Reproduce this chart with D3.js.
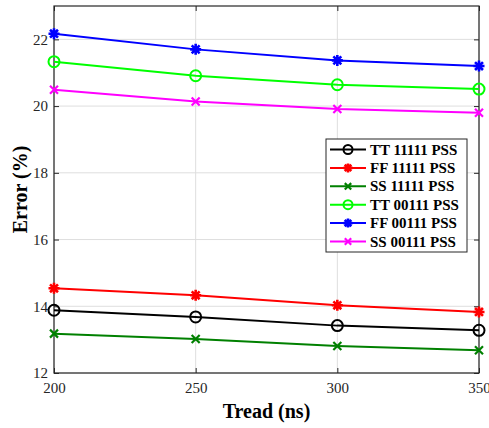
<!DOCTYPE html>
<html>
<head>
<meta charset="utf-8">
<script src="https://cdn.jsdelivr.net/npm/d3@7"></script>
<style>
body { margin: 0; background: #fff; }
text { font-family: "Liberation Serif", "Times New Roman", serif; }
</style>
</head>
<body>
<svg width="489" height="428"></svg>
<script>
// data
var treadNs = [200, 250, 300, 350];
var tt11111 = [13.88, 13.68, 13.42, 13.28];
var ff11111 = [14.54, 14.33, 14.03, 13.83];
var ss11111 = [13.18, 13.02, 12.81, 12.68];
var tt00111 = [21.33, 20.91, 20.64, 20.51];
var ff00111 = [22.17, 21.70, 21.37, 21.20];
var ss00111 = [20.49, 20.14, 19.91, 19.80];
var yTicks = [12, 14, 16, 18, 20, 22];
var seriesNames = ["TT 11111 PSS", "FF 11111 PSS", "SS 11111 PSS",
                   "TT 00111 PSS", "FF 00111 PSS", "SS 00111 PSS"];

var series = [
    {name: seriesNames[0], vals: tt11111, color: "#000000", marker: "o"},
    {name: seriesNames[1], vals: ff11111, color: "#ff0000", marker: "*"},
    {name: seriesNames[2], vals: ss11111, color: "#008000", marker: "x"},
    {name: seriesNames[3], vals: tt00111, color: "#00ff00", marker: "o"},
    {name: seriesNames[4], vals: ff00111, color: "#0000ff", marker: "*"},
    {name: seriesNames[5], vals: ss00111, color: "#ff00ff", marker: "x"}
];

var svg = d3.select("svg");
var margin = {top: 6, right: 10, bottom: 55, left: 54},
    width = 489 - margin.left - margin.right,
    height = 428 - margin.top - margin.bottom;

var x = d3.scaleLinear().domain([200, 350]).range([0, width]);
var y = d3.scaleLinear().domain([12, 23]).range([height, 0]);

var g = svg.append("g").attr("transform", "translate(" + margin.left + "," + margin.top + ")");

// grid
g.selectAll(".gx").data(treadNs).enter().append("line")
    .attr("x1", d => x(d)).attr("x2", d => x(d))
    .attr("y1", 0).attr("y2", height)
    .attr("stroke", "#dedede").attr("stroke-width", 1);
g.selectAll(".gy").data(yTicks).enter().append("line")
    .attr("x1", 0).attr("x2", width)
    .attr("y1", d => y(d)).attr("y2", d => y(d))
    .attr("stroke", "#dedede").attr("stroke-width", 1);

// axes
var axisColor = "#262626";
function styleAxis(sel) {
    sel.select(".domain").remove();
    sel.selectAll("line").attr("stroke", axisColor).attr("stroke-width", 1);
    sel.selectAll("text").attr("fill", axisColor).style("font-size", "15px")
        .style("font-family", "Liberation Serif, serif");
}
g.append("g").attr("transform", "translate(0," + height + ")")
    .call(d3.axisBottom(x).tickValues(treadNs).tickSizeInner(-5).tickSizeOuter(0).tickPadding(9))
    .call(styleAxis);
g.append("g")
    .call(d3.axisLeft(y).tickValues(yTicks).tickSizeInner(-5).tickSizeOuter(0).tickPadding(6))
    .call(styleAxis);
g.append("g").attr("transform", "translate(" + width + ",0)")
    .call(d3.axisRight(y).tickValues(yTicks).tickSizeInner(-5).tickSizeOuter(0).tickFormat(""))
    .call(styleAxis);
g.append("g")
    .call(d3.axisTop(x).tickValues(treadNs).tickSizeInner(-5).tickSizeOuter(0).tickFormat(""))
    .call(styleAxis);

// box
g.append("rect").attr("width", width).attr("height", height)
    .attr("fill", "none").attr("stroke", axisColor).attr("stroke-width", 1.2);

// markers
function drawMarker(sel, type, color, size) {
    if (type == "o") {
        sel.append("circle").attr("r", size).attr("fill", "none")
            .attr("stroke", color).attr("stroke-width", 2);
    } else if (type == "x") {
        var s = size * 0.8;
        sel.append("path").attr("d", "M" + -s + "," + -s + "L" + s + "," + s + "M" + -s + "," + s + "L" + s + "," + -s)
            .attr("stroke", color).attr("stroke-width", 2.2);
    } else {
        var s = size;
        var d = 0.72 * s;
        sel.append("path")
            .attr("d", "M0," + -s + "L0," + s + "M" + -s + ",0L" + s + ",0" +
                "M" + -d + "," + -d + "L" + d + "," + d + "M" + -d + "," + d + "L" + d + "," + -d)
            .attr("stroke", color).attr("stroke-width", 2.6);
    }
}

var line = d3.line()
    .x((d, i) => x(treadNs[i]))
    .y(d => y(d));

series.forEach(function(s) {
    g.append("path").datum(s.vals)
        .attr("fill", "none").attr("stroke", s.color).attr("stroke-width", 2)
        .attr("d", line);
    s.vals.forEach(function(v, i) {
        var m = g.append("g").attr("transform", "translate(" + x(treadNs[i]) + "," + y(v) + ")");
        drawMarker(m, s.marker, s.color, s.marker == "x" ? 5 : 5.5);
    });
});

// axis labels
svg.append("text")
    .attr("x", margin.left + width / 2).attr("y", 418)
    .attr("text-anchor", "middle").style("font-size", "20px").style("font-weight", "bold")
    .attr("fill", "#000").text("Tread (ns)");
svg.append("text")
    .attr("transform", "translate(27," + (margin.top + height / 2) + ") rotate(-90)")
    .attr("text-anchor", "middle").style("font-size", "20px").style("font-weight", "bold")
    .attr("fill", "#000").text("Error (%)");

// legend
var lg = svg.append("g").attr("transform", "translate(326,139)");
lg.append("rect").attr("width", 141).attr("height", 113)
    .attr("fill", "#fff").attr("stroke", axisColor).attr("stroke-width", 1);
series.forEach(function(s, i) {
    var row = lg.append("g").attr("transform", "translate(0," + (10.5 + i * 18.4) + ")");
    row.append("line").attr("x1", 4).attr("x2", 40).attr("y1", 0).attr("y2", 0)
        .attr("stroke", s.color).attr("stroke-width", 2);
    drawMarker(row.append("g").attr("transform", "translate(22,0)"), s.marker, s.color, s.marker == "x" ? 4 : 4.5);
    row.append("text").attr("x", 44).attr("y", 5)
        .style("font-size", "15px").style("font-weight", "bold").attr("fill", "#000")
        .text(s.name);
});
</script>
</body>
</html>
